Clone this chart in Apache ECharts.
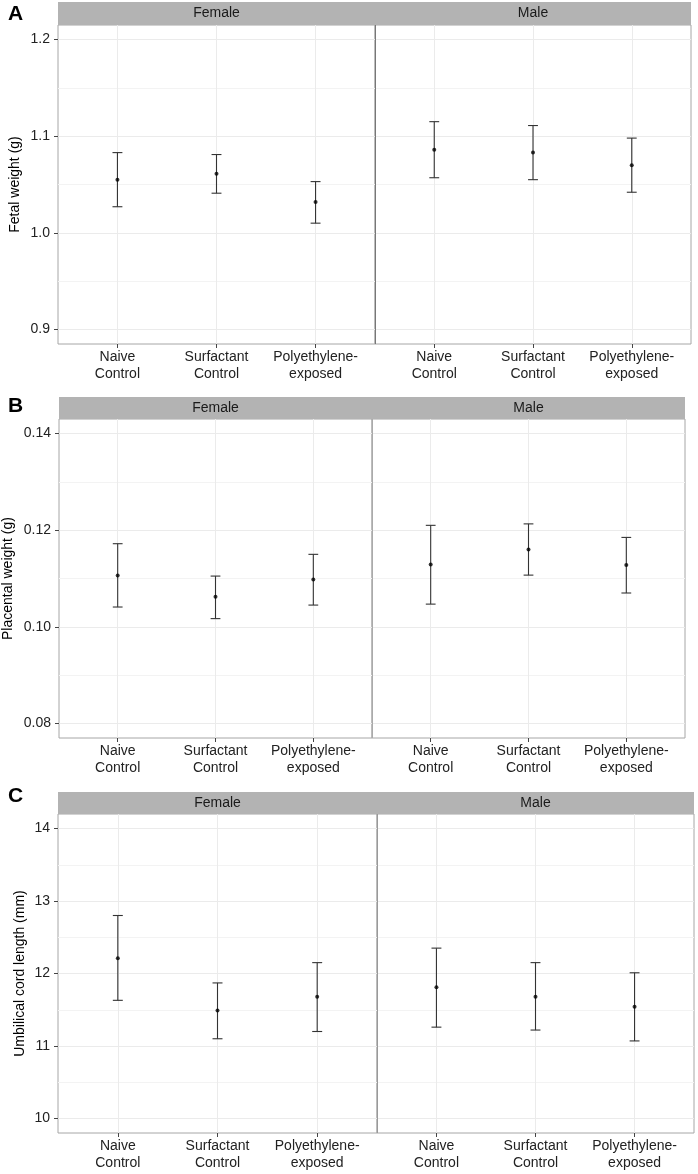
<!DOCTYPE html>
<html>
<head>
<meta charset="utf-8">
<script src="https://cdn.jsdelivr.net/npm/echarts@6/dist/echarts.min.js"></script>
<style>
html,body{margin:0;padding:0;background:#fff;}
#chart{width:698px;height:1174px;}
</style>
</head>
<body>
<div id="chart"></div>
<script>
// ---------- data ----------
const categories = ['Naive\nControl', 'Surfactant\nControl', 'Polyethylene-\nexposed'];
const sexes = ['Female', 'Male'];
const panelLetters = ['A', 'B', 'C'];
const yTitles = ['Fetal weight (g)', 'Placental weight (g)', 'Umbilical cord length (mm)'];

const fetalTicks = [0.9, 1.0, 1.1, 1.2];
const placentalTicks = [0.08, 0.10, 0.12, 0.14];
const cordTicks = [10, 11, 12, 13, 14];

const fetalFemaleMean  = [1.055, 1.061, 1.032];
const fetalFemaleLower = [1.027, 1.041, 1.010];
const fetalFemaleUpper = [1.083, 1.081, 1.053];
const fetalMaleMean    = [1.086, 1.083, 1.070];
const fetalMaleLower   = [1.057, 1.055, 1.042];
const fetalMaleUpper   = [1.115, 1.111, 1.098];

const placentalFemaleMean  = [0.1106, 0.1062, 0.1098];
const placentalFemaleLower = [0.1041, 0.1017, 0.1045];
const placentalFemaleUpper = [0.1172, 0.1105, 0.1150];
const placentalMaleMean    = [0.1129, 0.1160, 0.1128];
const placentalMaleLower   = [0.1047, 0.1107, 0.1070];
const placentalMaleUpper   = [0.1210, 0.1213, 0.1185];

const cordFemaleMean  = [12.21, 11.49, 11.68];
const cordFemaleLower = [11.63, 11.10, 11.20];
const cordFemaleUpper = [12.80, 11.87, 12.15];
const cordMaleMean    = [11.81, 11.68, 11.54];
const cordMaleLower   = [11.26, 11.22, 11.07];
const cordMaleUpper   = [12.35, 12.15, 12.01];

// ---------- assembly ----------
const measures = [
  { ticks: fetalTicks, decimals: 1,
    female: [fetalFemaleMean, fetalFemaleLower, fetalFemaleUpper],
    male: [fetalMaleMean, fetalMaleLower, fetalMaleUpper] },
  { ticks: placentalTicks, decimals: 2,
    female: [placentalFemaleMean, placentalFemaleLower, placentalFemaleUpper],
    male: [placentalMaleMean, placentalMaleLower, placentalMaleUpper] },
  { ticks: cordTicks, decimals: 0,
    female: [cordFemaleMean, cordFemaleLower, cordFemaleUpper],
    male: [cordMaleMean, cordMaleLower, cordMaleUpper] }
];

// layout (pixels)
const layout = [
  { top: 25,  height: 319, left: 58, split: 375, right: 691, stripH: 23, nameGap: 36, letterY: 4, divider: '#777' },
  { top: 419, height: 319, left: 59, split: 372, right: 685, stripH: 22, nameGap: 44, letterY: 396, divider: '#aaa' },
  { top: 814, height: 319, left: 58, split: 377, right: 694, stripH: 22, nameGap: 31, letterY: 786, divider: '#999' }
];

const FONT = 'Liberation Sans, Arial, Helvetica, sans-serif';
const xPositions = categories.map((c, i) => i + 1);

const grids = [], xAxes = [], yAxes = [], series = [], graphics = [];

measures.forEach((m, pi) => {
  const L = layout[pi];
  const tMin = m.ticks[0], tMax = m.ticks[m.ticks.length - 1];
  const pad = (tMax - tMin) * 0.05;
  const yMin = tMin - pad, yMax = tMax + pad;

  // strip
  graphics.push({
    type: 'rect', silent: true,
    shape: { x: L.left, y: L.top - L.stripH, width: L.right - L.left, height: L.stripH },
    style: { fill: '#b3b3b3' }
  });
  graphics.push({
    type: 'text', left: 8, top: L.letterY,
    style: { text: panelLetters[pi], font: 'bold 21px ' + FONT, fill: '#000' }
  });
  // facet divider
  graphics.push({
    type: 'line', silent: true, z: 10,
    shape: { x1: L.split + 0.5, y1: L.top, x2: L.split + 0.5, y2: L.top + L.height },
    style: { stroke: L.divider, lineWidth: 1 }
  });

  sexes.forEach((sex, si) => {
    const gi = grids.length;
    const gl = si === 0 ? L.left : L.split;
    const gw = si === 0 ? L.split - L.left : L.right - L.split;
    grids.push({
      left: gl, top: L.top, width: gw, height: L.height,
      show: true, borderColor: '#a6a6a6', borderWidth: 1, backgroundColor: '#fff'
    });
    graphics.push({
      type: 'text', silent: true,
      x: gl + gw / 2, y: L.top - L.stripH / 2,
      style: { text: sex, font: '14px ' + FONT, fill: '#1a1a1a', align: 'center', verticalAlign: 'middle' }
    });
    xAxes.push({
      gridIndex: gi, type: 'value', min: 0.4, max: 3.6, splitNumber: 3,
      axisLine: { show: false },
      axisTick: { show: true, length: 4, lineStyle: { color: '#444' }, customValues: xPositions },
      axisLabel: {
        customValues: xPositions, margin: 5,
        formatter: v => categories[Math.round(v) - 1] || '',
        fontFamily: FONT, fontSize: 14, color: '#222', lineHeight: 17
      },
      splitLine: { show: true, lineStyle: { color: '#ebebeb', width: 1 } }
    });
    yAxes.push({
      gridIndex: gi, type: 'value', min: yMin, max: yMax, splitNumber: 3,
      name: si === 0 ? yTitles[pi] : '',
      nameLocation: 'middle', nameGap: L.nameGap, nameRotate: 90,
      nameTextStyle: { fontFamily: FONT, fontSize: 14, color: '#000' },
      axisLine: { show: false },
      axisTick: { show: si === 0, length: 4, lineStyle: { color: '#444' }, customValues: m.ticks },
      axisLabel: {
        show: si === 0, customValues: m.ticks, margin: 8,
        formatter: v => Number(v).toFixed(m.decimals),
        fontFamily: FONT, fontSize: 14, color: '#222'
      },
      splitLine: { show: true, lineStyle: { color: '#ebebeb', width: 1 } },
      minorTick: { show: false, splitNumber: 2 },
      minorSplitLine: { show: true, lineStyle: { color: '#f3f3f3', width: 1 } }
    });

    const grp = si === 0 ? m.female : m.male;
    const mean = grp[0], lower = grp[1], upper = grp[2];
    series.push({
      type: 'custom', xAxisIndex: gi, yAxisIndex: gi, silent: true,
      data: xPositions.map((x, i) => [x, lower[i], upper[i]]),
      renderItem: function (params, api) {
        const x = api.value(0);
        const lo = api.coord([x, api.value(1)]);
        const hi = api.coord([x, api.value(2)]);
        const half = api.size([0.1, 0])[0] / 2;
        const st = { stroke: '#333', lineWidth: 1.1 };
        return {
          type: 'group',
          children: [
            { type: 'line', shape: { x1: lo[0], y1: lo[1], x2: hi[0], y2: hi[1] }, style: st },
            { type: 'line', shape: { x1: lo[0] - half, y1: lo[1], x2: lo[0] + half, y2: lo[1] }, style: st },
            { type: 'line', shape: { x1: hi[0] - half, y1: hi[1], x2: hi[0] + half, y2: hi[1] }, style: st }
          ]
        };
      },
      z: 3
    });
    series.push({
      type: 'scatter', xAxisIndex: gi, yAxisIndex: gi, silent: true,
      symbol: 'circle', symbolSize: 4,
      itemStyle: { color: '#000' },
      data: xPositions.map((x, i) => [x, mean[i]]),
      z: 4
    });
  });
});

const chart = echarts.init(document.getElementById('chart'), null, { renderer: 'canvas' });
chart.setOption({
  backgroundColor: '#fff',
  animation: false,
  grid: grids,
  xAxis: xAxes,
  yAxis: yAxes,
  series: series,
  graphic: graphics
});
</script>
</body>
</html>
